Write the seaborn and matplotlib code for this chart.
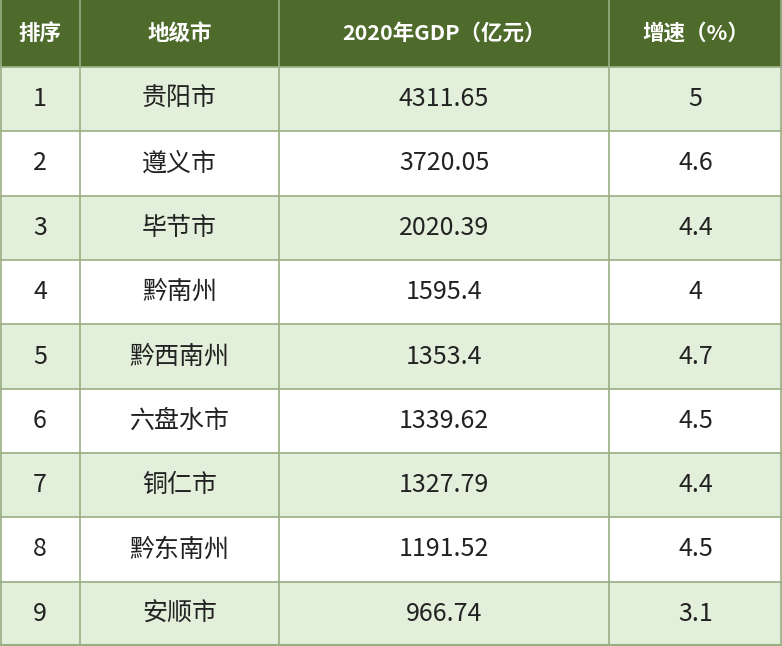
import matplotlib
matplotlib.use("Agg")
import matplotlib.pyplot as plt
import seaborn as sns

sns.set_theme(style="white")
plt.rcParams['font.family'] = ['Noto Sans CJK SC', 'DejaVu Sans']

headers = ["排序", "地级市", "2020年GDP（亿元）", "增速（%）"]
ranks = ["1", "2", "3", "4", "5", "6", "7", "8", "9"]
cities = ["贵阳市", "遵义市", "毕节市", "黔南州", "黔西南州", "六盘水市", "铜仁市", "黔东南州", "安顺市"]
gdp = ["4311.65", "3720.05", "2020.39", "1595.4", "1353.4", "1339.62", "1327.79", "1191.52", "966.74"]
growth = ["5", "4.6", "4.4", "4", "4.7", "4.5", "4.4", "4.5", "3.1"]

col_edges = [0, 80, 279, 609, 782]
header_h = 67
W, H = 782, 646
row_h = (H - header_h) / len(ranks)

fig = plt.figure(figsize=(7.82, 6.46), dpi=100)
ax = fig.add_axes([0, 0, 1, 1])
ax.set_xlim(0, W)
ax.set_ylim(H, 0)
ax.axis("off")

ax.add_patch(plt.Rectangle((0, 0), W, header_h, color="#4F6B2C"))
for i in range(len(ranks)):
    y0 = header_h + i * row_h
    c = "#E2EFDA" if i % 2 == 0 else "white"
    ax.add_patch(plt.Rectangle((0, y0), W, row_h, color=c))
    ax.axhline(y0, color="#9AAE84", lw=1.2)
ax.axhline(H - 1, color="#9AAE84", lw=1.5)
for x in col_edges:
    xx = min(max(x, 0.8), W - 0.8)
    ax.axvline(xx, color="#9AAE84", lw=1.2)

for j, h in enumerate(headers):
    cx = (col_edges[j] + col_edges[j + 1]) / 2
    ax.text(cx, header_h / 2, h, ha="center", va="center", color="white",
            fontsize=15.5, fontweight="bold")

cols = [ranks, cities, gdp, growth]
for j, col in enumerate(cols):
    cx = (col_edges[j] + col_edges[j + 1]) / 2
    for i, v in enumerate(col):
        cy = header_h + (i + 0.5) * row_h
        ax.text(cx, cy, v, ha="center", va="center", color="#222222", fontsize=18)

fig.savefig("out.png", dpi=100)
